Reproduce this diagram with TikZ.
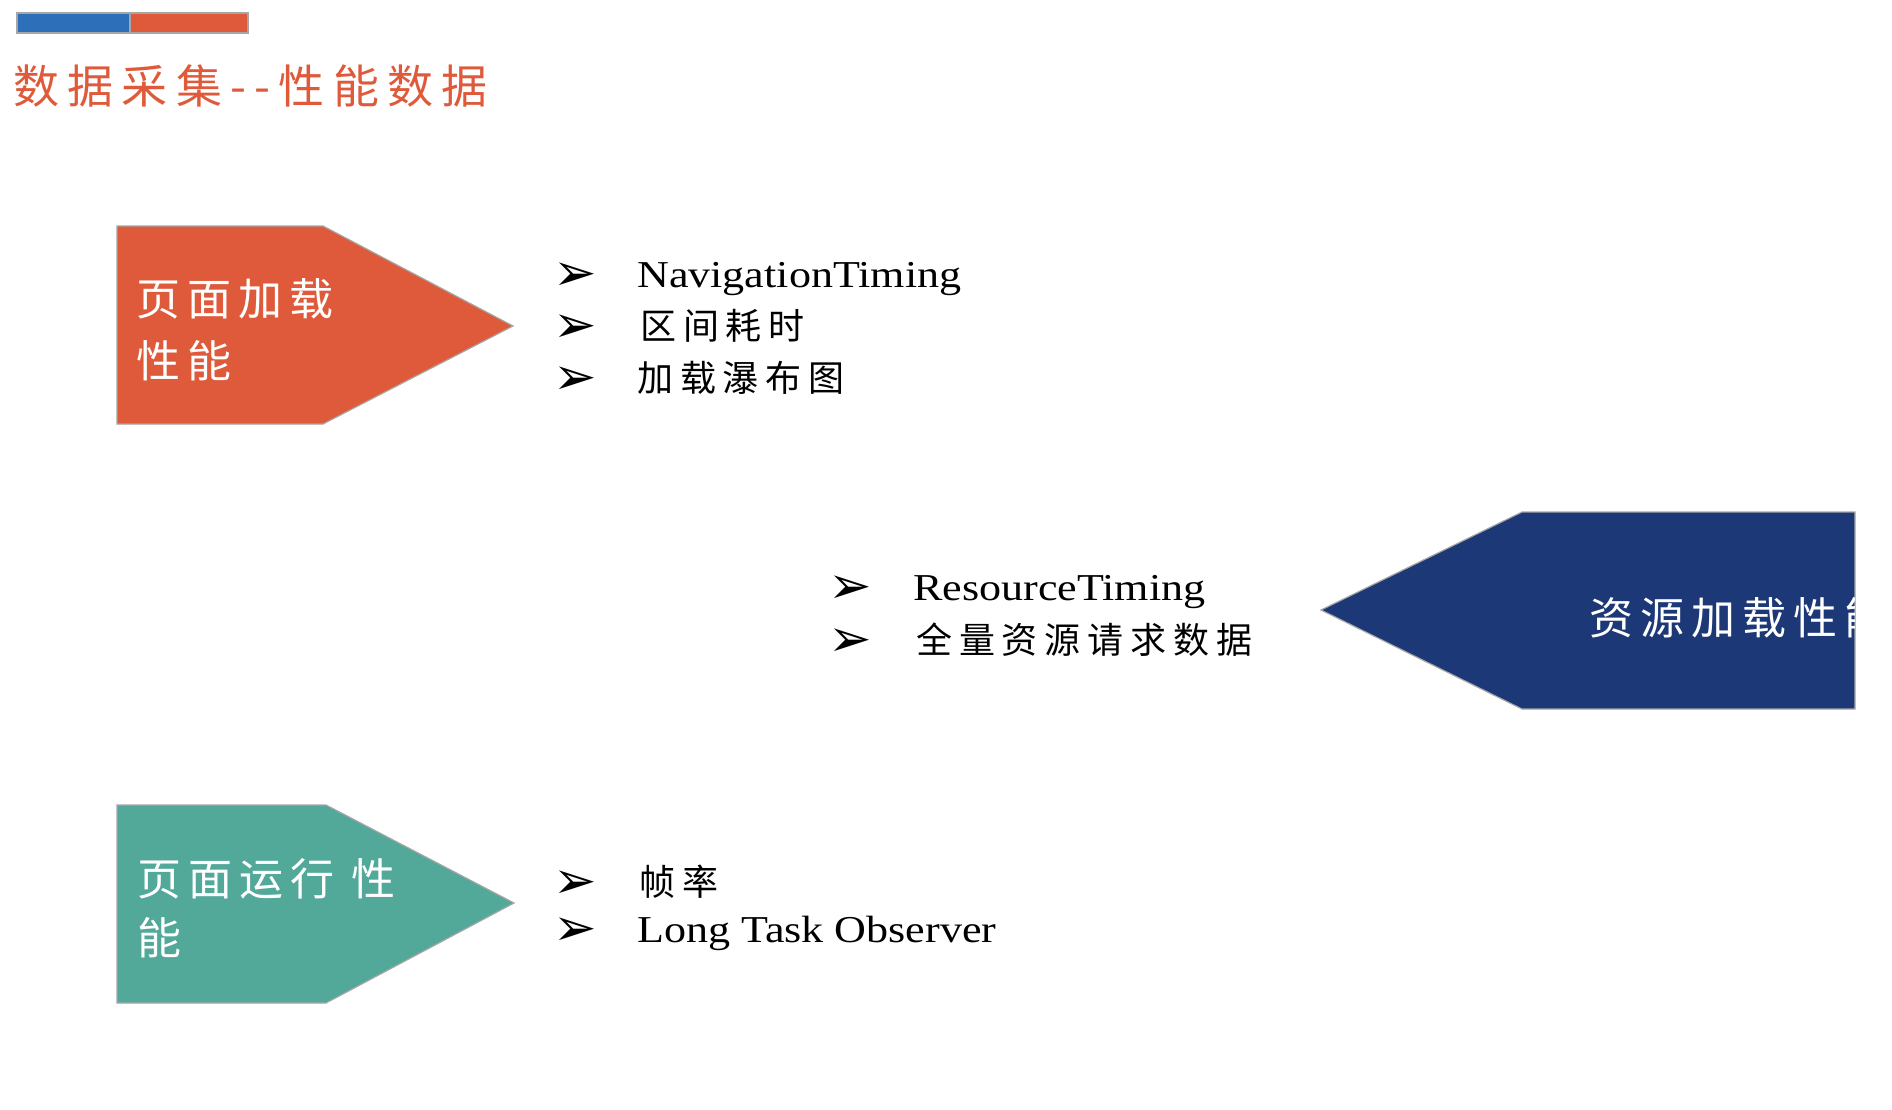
\documentclass[tikz,border=0pt]{standalone}
\usepackage{fontspec}
\setmainfont{Liberation Serif}[FakeStretch=1.16]
\newfontfamily\cjktitle{Noto Sans CJK SC}[LetterSpace=18]
\newfontfamily\cjkbox{Noto Sans CJK SC}[LetterSpace=16]
\newfontfamily\cjkitem{Noto Sans CJK SC}[LetterSpace=19]
\newfontfamily\dingfont{DejaVu Sans}

\definecolor{accentred}{HTML}{DF5A3B}
\definecolor{barblue}{HTML}{2E6FB9}
\definecolor{navyfill}{HTML}{1C3876}
\definecolor{tealfill}{HTML}{52A99A}
\definecolor{edgegray}{HTML}{A6A6A6}

\tikzset{
  panel/.style={draw=edgegray, line width=1.2pt},
  boxtext/.style={anchor=base west, inner sep=0pt, text=white,
    font=\cjkbox\fontsize{44}{50}\selectfont},
  bulletmark/.style={anchor=base west, inner sep=0pt, yshift=-3.5pt, xshift=-7pt,
    font=\dingfont\fontsize{52}{56}\selectfont},
  itemlatin/.style={anchor=base west, inner sep=0pt,
    font=\fontsize{38}{44}\selectfont},
  itemcjk/.style={anchor=base west, inner sep=0pt,
    font=\cjkitem\fontsize{36}{42}\selectfont},
}

\begin{document}
\begin{tikzpicture}[x=1pt,y=-1pt]
\useasboundingbox (0,0) rectangle (1892,1110);

% header bar and title
\draw[panel, fill=barblue] (17,13) rectangle (130,33);
\draw[panel, fill=accentred] (130,13) rectangle (248,33);
\node[anchor=base west, inner sep=0pt, text=accentred,
  font=\cjktitle\fontsize{46}{52}\selectfont] (title) at (13,104) {数据采集--性能数据};

% page load panel
\draw[panel, fill=accentred] (117,226) -- (323,226) -- (513,326) -- (323,424) -- (117,424) -- cycle;
\node[boxtext] (load1) at (136,315) {页面加载};
\node[boxtext] (load2) at (136,377) {性能};

\node[bulletmark] (b1) at (560,287) {➢};
\node[itemlatin] (t1) at (637,287) {NavigationTiming};
\node[bulletmark] (b2) at (560,339) {➢};
\node[itemcjk] (t2) at (640,339) {区间耗时};
\node[bulletmark] (b3) at (560,391) {➢};
\node[itemcjk] (t3) at (637,391) {加载瀑布图};

% resource load panel
\draw[panel, fill=navyfill] (1321,610) -- (1522,512) -- (1855,512) -- (1855,709) -- (1522,709) -- cycle;
\begin{scope}
  \clip (1321,610) -- (1522,512) -- (1854,512) -- (1854,709) -- (1522,709) -- cycle;
  \node[boxtext] (res1) at (1589,634) {资源加载性能};
\end{scope}

\node[bulletmark] (b4) at (835,600) {➢};
\node[itemlatin] (t4) at (913,600) {ResourceTiming};
\node[bulletmark] (b5) at (835,653) {➢};
\node[itemcjk] (t5) at (916,653) {全量资源请求数据};

% runtime panel
\draw[panel, fill=tealfill] (117,805) -- (326,805) -- (514,903) -- (326,1003) -- (117,1003) -- cycle;
\node[boxtext] (run1) at (137,895) {页面运行 性};
\node[boxtext] (run2) at (137,954) {能};

\node[bulletmark] (b6) at (560,895) {➢};
\node[itemcjk] (t6) at (639,895) {帧率};
\node[bulletmark] (b7) at (560,942) {➢};
\node[itemlatin] (t7) at (637,942) {Long Task Observer};
\end{tikzpicture}
\end{document}
